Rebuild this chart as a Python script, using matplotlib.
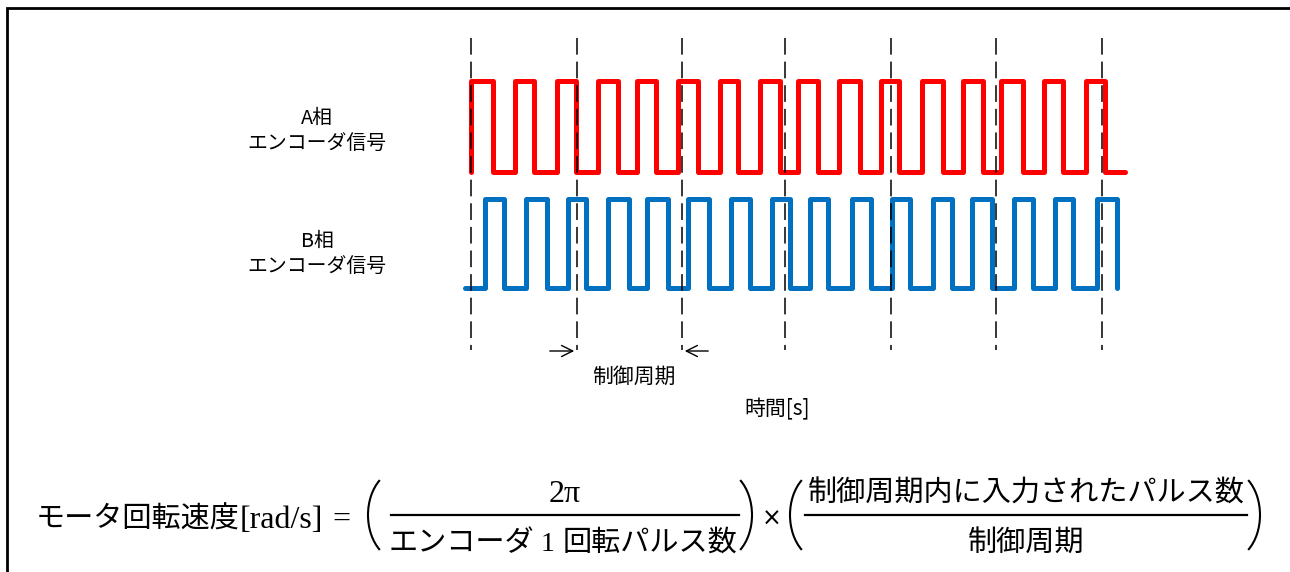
import matplotlib.pyplot as plt
from matplotlib.patches import Arc

plt.rcParams['font.family'] = ['Noto Sans CJK JP', 'DejaVu Sans']
plt.rcParams['lines.scale_dashes'] = False

# pulse edges along the time axis (px)
a_rise = [471, 515, 557, 598, 637, 678, 720, 760, 798, 839, 881, 922, 963, 1001, 1044, 1086]
a_fall = [493, 534, 576, 618, 656, 698, 738, 780, 818, 860, 899, 943, 983, 1023, 1063, 1105]
a_start, a_end = 471, 1125

b_rise = [485, 526, 568, 608, 647, 688, 731, 772, 810, 852, 892, 933, 972, 1014, 1055, 1097]
b_fall = [504, 547, 586, 629, 668, 709, 750, 790, 828, 871, 910, 952, 992, 1033, 1073, 1117]
b_start, b_end = 465, 1117

# control period boundaries
cycle_marks = [471, 577, 682, 785, 891, 996, 1102]

labels = ['A相\nエンコーダ信号', 'B相\nエンコーダ信号']

SERIF = ['Liberation Serif', 'DejaVu Serif']
CJK = ['Noto Sans CJK JP', 'DejaVu Sans']


def square_wave(rises, falls, start, end, hi, lo):
    xs = [start]
    ys = [lo]
    for r, f in zip(rises, falls):
        xs += [r, r, f, f]
        ys += [lo, hi, hi, lo]
    xs.append(end)
    ys.append(lo)
    return xs, ys


fig = plt.figure(figsize=(12.9, 5.72), dpi=100)
ax = fig.add_axes([0, 0, 1, 1])
ax.set_xlim(0, 1290)
ax.set_ylim(572, 0)
ax.axis('off')

# frame (only top and left visible)
ax.plot([7, 7, 1290], [572, 8, 8], color='black', lw=2, solid_joinstyle='miter')

# waveforms
xs, ys = square_wave(a_rise, a_fall, a_start, a_end, 81, 172)
ax.plot(xs, ys, color='#FF0000', lw=3.6, solid_joinstyle='round', solid_capstyle='round')
xs, ys = square_wave(b_rise, b_fall, b_start, b_end, 199, 288)
ax.plot(xs, ys, color='#0070C0', lw=3.6, solid_joinstyle='round', solid_capstyle='round')

for x in cycle_marks:
    ax.plot([x, x], [38, 350], color='black', lw=1.1, dashes=(12, 5))

ax.text(317, 131, labels[0], ha='center', va='center', fontsize=14.3, linespacing=1.25)
ax.text(317, 254, labels[1], ha='center', va='center', fontsize=14.3, linespacing=1.25)

# control period arrows
ax.annotate('', xy=(cycle_marks[1], 351), xytext=(547, 351),
            arrowprops=dict(arrowstyle='->', lw=1, color='black', mutation_scale=20))
ax.annotate('', xy=(cycle_marks[2], 351), xytext=(711, 351),
            arrowprops=dict(arrowstyle='->', lw=1, color='black', mutation_scale=20))
ax.text(634, 377, '制御周期', ha='center', va='center', fontsize=15)
ax.text(777, 409, '時間[s]', ha='center', va='center', fontsize=15)

# formula
fig.canvas.draw()
renderer = fig.canvas.get_renderer()


def put_row(pieces, x, y, align='center'):
    texts = [ax.text(0, y, s, fontsize=size, family=fam, ha='left', va='baseline')
             for s, fam, size in pieces]
    widths = [t.get_window_extent(renderer).width for t in texts]
    if align == 'center':
        x = x - sum(widths) / 2
    for t, w in zip(texts, widths):
        t.set_x(x)
        x += w


FS = 21
SS = 23
put_row([('モータ回転速度', CJK, FS), ('[rad/s]', SERIF, SS)], 36, 528, align='left')
ax.text(341, 528, '=', fontsize=SS, family=SERIF, ha='center', va='baseline')

put_row([('2π', SERIF, SS)], 565, 502)
ax.plot([391, 739], [515, 515], color='black', lw=1.6)
put_row([('エンコーダ', CJK, FS), (' 1 ', SERIF, 20), ('回転パルス数', CJK, FS)], 563, 551)

ax.text(772, 519, '×', fontsize=17, family=['DejaVu Sans'], ha='center', va='center')

put_row([('制御周期内に入力されたパルス数', CJK, FS)], 1026, 502)
ax.plot([805, 1247], [515, 515], color='black', lw=1.6)
put_row([('制御周期', CJK, FS)], 1026, 551)

# large parentheses
for left, right in [(368, 752), (790, 1260)]:
    ax.add_patch(Arc((left + 32, 515), 64, 90, theta1=120, theta2=240, lw=1.5, color='black'))
    ax.add_patch(Arc((right - 32, 515), 64, 90, theta1=-60, theta2=60, lw=1.5, color='black'))

fig.savefig('out.png', dpi=100)
